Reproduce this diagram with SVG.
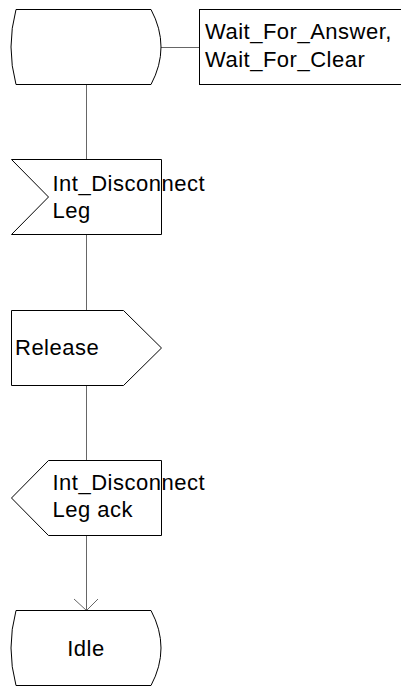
<svg xmlns="http://www.w3.org/2000/svg" width="401" height="686" viewBox="0 0 401 686">
<style>
.shape{fill:#fff;stroke:#000;stroke-width:1}
.conn{fill:none;stroke:#666;stroke-width:1}
text{font-family:"Liberation Sans",Arial,sans-serif;font-size:22px;fill:#000;letter-spacing:0.5px}
</style>
<rect width="401" height="686" fill="#fff"/>
<g id="connectors">
<line class="conn" x1="86.5" y1="84.5" x2="86.5" y2="159.5"/>
<line class="conn" x1="161" y1="47.5" x2="199.5" y2="47.5"/>
<line class="conn" x1="86.5" y1="234.5" x2="86.5" y2="310.5"/>
<line class="conn" x1="86.5" y1="385.5" x2="86.5" y2="460.5"/>
<line class="conn" x1="86.5" y1="535.5" x2="86.5" y2="610.5"/>
<polyline class="conn" points="74,599 86.5,610.5 98,599"/>
</g>
<g id="state_wait">
<path class="shape" d="M16,9.5 H151 Q171,47 151,84.5 H16 Q6,47 16,9.5 Z"/>
</g>
<g id="comment_wait">
<rect class="shape" x="199.5" y="9.5" width="203" height="75"/>
<text x="205" y="39">Wait_For_Answer,</text>
<text x="205" y="67">Wait_For_Clear</text>
</g>
<g id="input_int_disconnect_leg">
<polygon class="shape" points="11.5,159.5 161.5,159.5 161.5,234.5 11.5,234.5 48.5,197"/>
<text x="52.5" y="191">Int_Disconnect</text>
<text x="52.5" y="218">Leg</text>
</g>
<g id="output_release">
<polygon class="shape" points="11.5,310.5 123.5,310.5 161.5,348 123.5,385.5 11.5,385.5"/>
<text x="15" y="355">Release</text>
</g>
<g id="output_int_disconnect_leg_ack">
<polygon class="shape" points="48.5,460.5 161.5,460.5 161.5,535.5 48.5,535.5 11.5,498"/>
<text x="52.5" y="490">Int_Disconnect</text>
<text x="52.5" y="517">Leg ack</text>
</g>
<g id="state_idle">
<path class="shape" d="M16,610.5 H151 Q171,648 151,685.5 H16 Q6,648 16,610.5 Z"/>
<text x="86" y="656" text-anchor="middle">Idle</text>
</g>
</svg>
